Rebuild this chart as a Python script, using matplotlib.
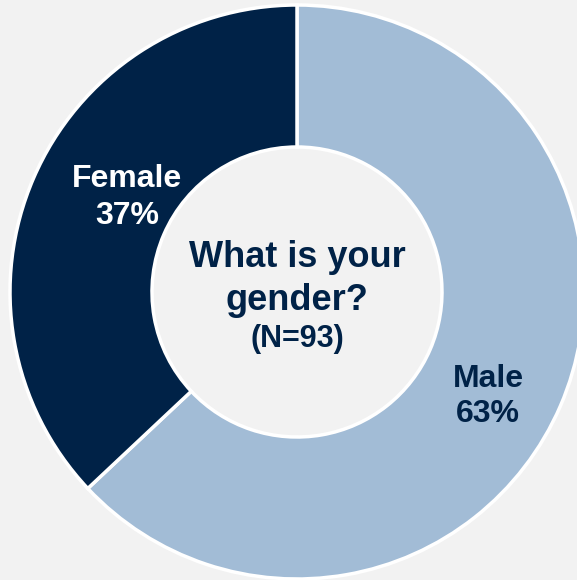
import matplotlib.pyplot as plt

plt.rcParams['font.family'] = ['Liberation Sans', 'DejaVu Sans']

# data
labels = ['Male', 'Female']
shares = [63, 37]
colors = ['#a2bcd6', '#002247']
label_colors = ['#002247', 'white']
question = ['What is your', 'gender?']
n_text = '(N=93)'

W, H = 577, 580
fig = plt.figure(figsize=(W / 100, H / 100), dpi=100)
fig.patch.set_facecolor('#f2f2f2')
ax = fig.add_axes([0, 0, 1, 1])
ax.set_facecolor('#f2f2f2')

cx, cy = 297, H - 292
r_out, r_in = 287, 145

wedges, _ = ax.pie(shares, colors=colors, startangle=90, counterclock=False,
                   radius=r_out, center=(cx, cy),
                   wedgeprops=dict(width=r_out - r_in, edgecolor='white', linewidth=2.5))

ax.set_xlim(0, W)
ax.set_ylim(0, H)
ax.set_aspect('equal')
ax.axis('off')

# slice labels, baselines measured from the top (px)
label_pos = [(488, 387, 422), (127, 187, 224)]
for lab, val, col, (px, b1, b2) in zip(labels, shares, label_colors, label_pos):
    ax.text(px, H - b1, lab, ha='center', va='baseline',
            fontsize=23, fontweight='bold', color=col)
    ax.text(px, H - b2, f'{val}%', ha='center', va='baseline',
            fontsize=23, fontweight='bold', color=col)

for line, base in zip(question, [267, 310]):
    ax.text(cx, H - base, line, ha='center', va='baseline', fontsize=26,
            fontweight='bold', color='#002247')
ax.text(cx, H - 347, n_text, ha='center', va='baseline', fontsize=22,
        fontweight='bold', color='#002247')

fig.savefig('out.png', dpi=100, facecolor=fig.get_facecolor())
